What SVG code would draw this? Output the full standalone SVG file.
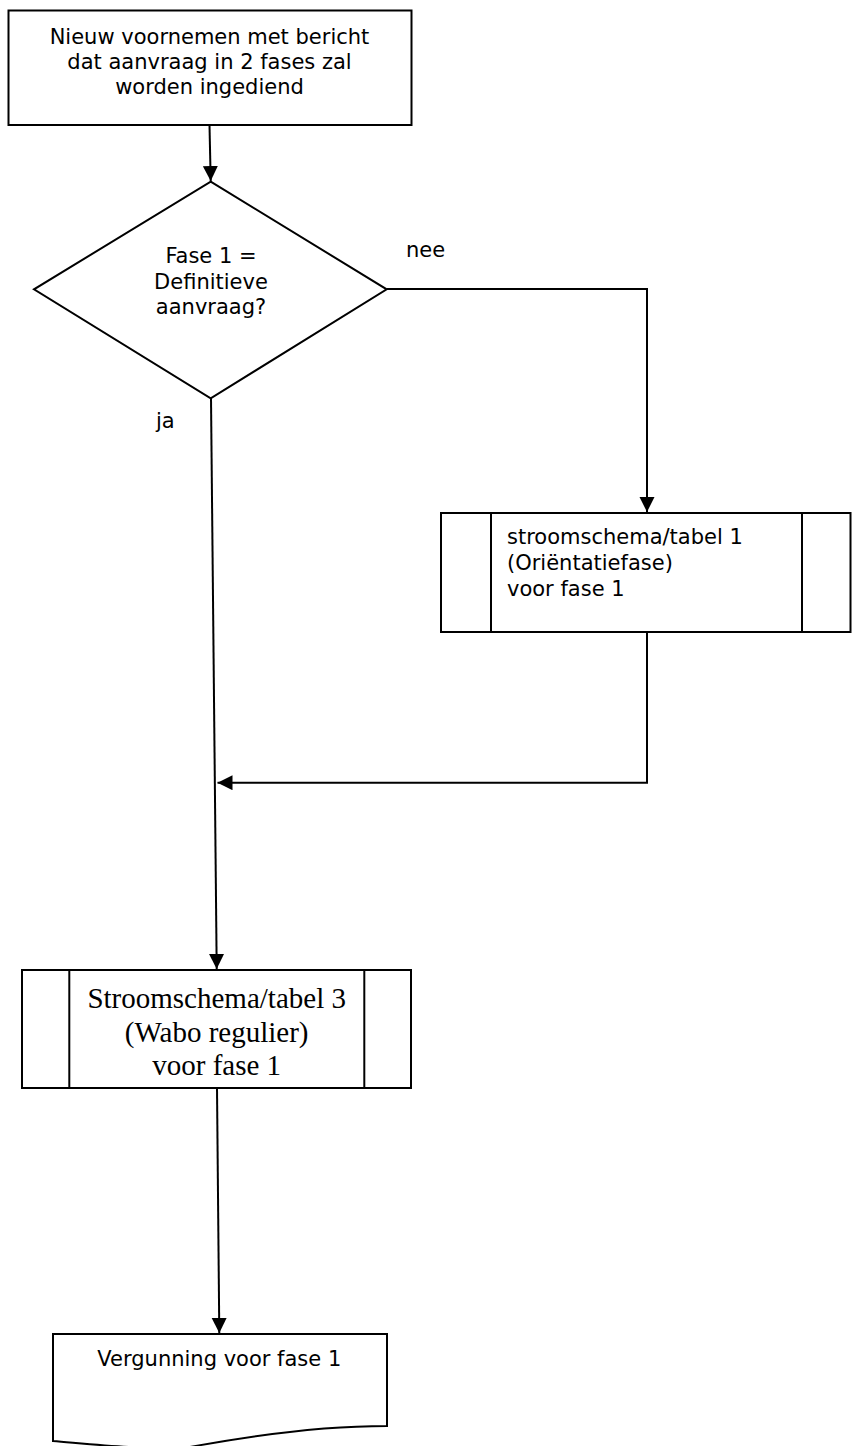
<svg xmlns="http://www.w3.org/2000/svg" width="852" height="1446" viewBox="0 0 852 1446">
<style>
.shape{fill:#fff;stroke:#000;stroke-width:2}
.line{fill:none;stroke:#000;stroke-width:2}
.sans{font-family:"DejaVu Sans",Verdana,sans-serif;font-size:21px;fill:#000}
.serif{font-family:"Liberation Serif","Times New Roman",serif;font-size:29px;fill:#000}
</style>
<defs>
<marker id="arr" markerUnits="userSpaceOnUse" markerWidth="16" markerHeight="16" refX="15" refY="7.5" orient="auto">
<path d="M0,0 L15,7.5 L0,15 Z" fill="#000"/>
</marker>
</defs>
<rect width="852" height="1446" fill="#fff"/>
<g id="connectors">
<line class="line" x1="209.5" y1="125" x2="210.7" y2="181" marker-end="url(#arr)"/>
<polyline class="line" points="386.7,289 647,289 647,512" marker-end="url(#arr)"/>
<line class="line" x1="211" y1="398" x2="216.7" y2="969" marker-end="url(#arr)"/>
<polyline class="line" points="647,632 647,782.7 217.5,782.7" marker-end="url(#arr)"/>
<line class="line" x1="217" y1="1088" x2="219.3" y2="1333" marker-end="url(#arr)"/>
<text class="sans" x="406" y="257">nee</text>
<text class="sans" x="156" y="428">ja</text>
</g>
<g id="start">
<rect class="shape" x="8.5" y="10.5" width="403" height="114.5"/>
<text class="sans" text-anchor="middle" x="209.5" y="43.5">Nieuw voornemen met bericht</text>
<text class="sans" text-anchor="middle" x="209.5" y="68.5">dat aanvraag in 2 fases zal</text>
<text class="sans" text-anchor="middle" x="209.5" y="93.5">worden ingediend</text>
</g>
<g id="decision">
<polygon class="shape" points="210.7,181.7 386.7,289.3 210.7,398.3 34,289.3"/>
<text class="sans" text-anchor="middle" x="211" y="263">Fase 1 =</text>
<text class="sans" text-anchor="middle" x="211" y="289">Definitieve</text>
<text class="sans" text-anchor="middle" x="211" y="314">aanvraag?</text>
</g>
<g id="subprocess1">
<rect class="shape" x="441" y="513" width="409.5" height="119"/>
<line class="line" x1="491" y1="513" x2="491" y2="632"/>
<line class="line" x1="802" y1="513" x2="802" y2="632"/>
<text class="sans" x="507" y="544">stroomschema/tabel 1</text>
<text class="sans" x="507" y="570">(Oriëntatiefase)</text>
<text class="sans" x="507" y="596">voor fase 1</text>
</g>
<g id="subprocess3">
<rect class="shape" x="22" y="970" width="389" height="118"/>
<line class="line" x1="69.3" y1="970" x2="69.3" y2="1088"/>
<line class="line" x1="364.3" y1="970" x2="364.3" y2="1088"/>
<text class="serif" text-anchor="middle" x="216.7" y="1008">Stroomschema/tabel 3</text>
<text class="serif" text-anchor="middle" x="216.7" y="1041.5">(Wabo regulier)</text>
<text class="serif" text-anchor="middle" x="216.7" y="1075">voor fase 1</text>
</g>
<g id="document">
<path class="shape" d="M53,1334 L387,1334 L387,1426 C330,1426 260,1434 190,1447 C140,1450 90,1444 53,1441 Z"/>
<text class="sans" text-anchor="middle" x="219.3" y="1366">Vergunning voor fase 1</text>
</g>
</svg>
